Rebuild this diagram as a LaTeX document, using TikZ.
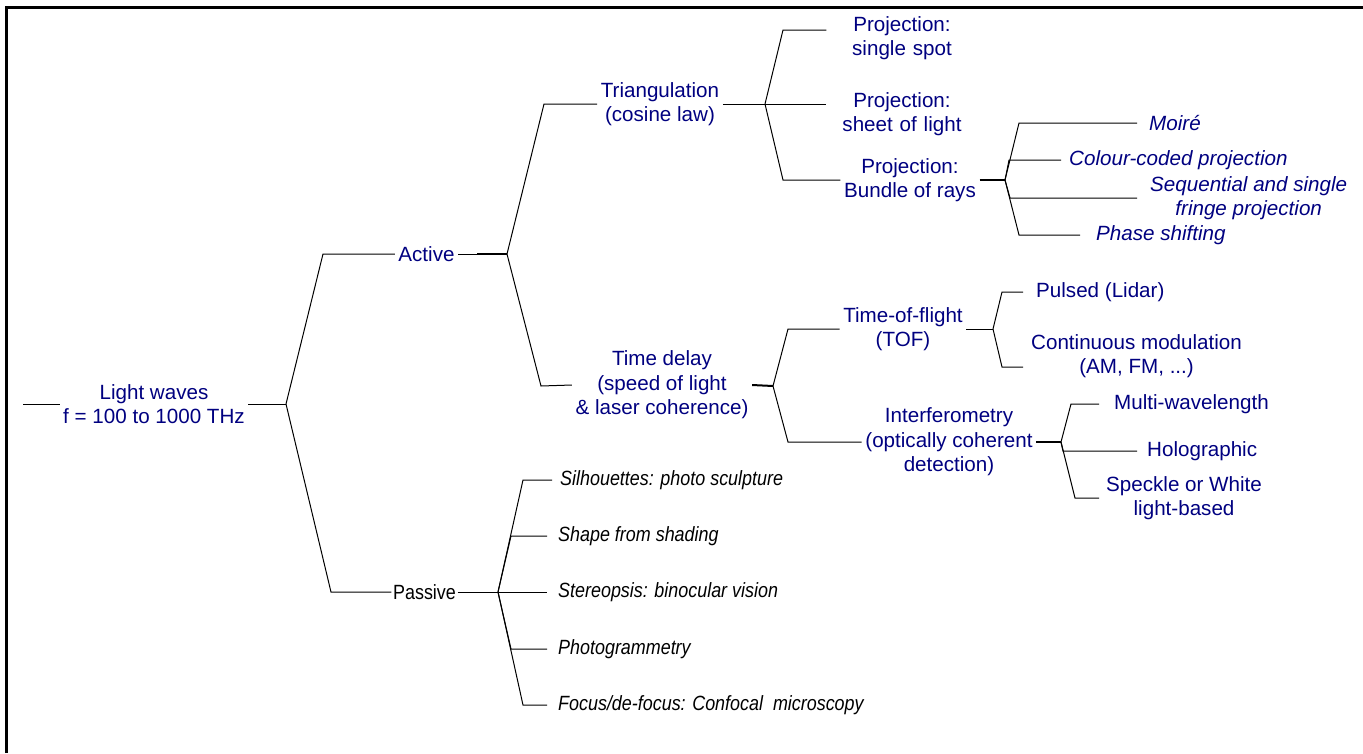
\documentclass[tikz,border=0pt]{standalone}
\usepackage{fontspec}
\setmainfont{Liberation Sans}
\newfontfamily\narrowsans[FakeStretch=0.87]{Liberation Sans}
\begin{document}
\begin{tikzpicture}[x=1pt,y=-1pt,
    every node/.style={font=\fontsize{20.6}{24.5}\selectfont, align=center},
    inner/.style={text=wavecolor, inner xsep=3.5pt},
    leaf/.style={text=wavecolor, anchor=west, inner xsep=9pt},
    ileaf/.style={leaf, font=\fontsize{20.6}{24.5}\selectfont\itshape},
    pleaf/.style={anchor=west, inner xsep=11pt, font=\fontsize{20.6}{24.5}\selectfont\narrowsans\itshape},
    link/.style={line width=1pt},
    stub/.style={line width=2pt}]
	% Colours
	\definecolor{wavecolor}{RGB}{0,0,128}
	
	% Page and outer frame (only top and left edges show)
	\useasboundingbox (0,0) rectangle (1363,753);
	\draw[line width=3pt] (6,753) -- (6,7.5) -- (1363,7.5);
	
	% Light waves
	\coordinate (start) at (23,404);
	\node[inner] (light) at (154,404) {Light waves\\f = 100 to 1000 THz};
	\coordinate (lightsp) at (286,404);
	
	% Active and passive
	\node[inner] (active) at (426.5,254) {Active};
	\node[inner sep=1.5pt, font=\fontsize{20.6}{24.5}\selectfont\narrowsans] (passive) at (424.5,592) {Passive};
	\coordinate (activesp) at (507,254);
	\coordinate (passivesp) at (498,592);
	
	% Triangulation and time delay
	\node[inner] (tri) at (660,104) {Triangulation\\(cosine law)};
	\node[inner] (delay) at (662,385) {Time delay\\(speed of light\\\& laser coherence)};
	\coordinate (trisp) at (765,104);
	\coordinate (delaysp) at (773,386);
	
	% Projection
	\node[inner, text width=144pt] (spot) at (902,38) {Projection:\\single spot};
	\node[inner, text width=144pt] (sheet) at (902,114) {Projection:\\sheet of light};
	\node[inner] (bundle) at (910,180) {Projection:\\Bundle of rays};
	\coordinate (bundlesp) at (1005,180);
	
	% Bundle of rays
	\node[ileaf, inner xsep=12pt] (moire) at (1137,123) {Moiré};
	\node[ileaf, inner xsep=8pt] (colour) at (1061,160) {Colour-coded projection};
	\node[ileaf, inner xsep=13pt] (fringe) at (1137,198) {Sequential and single\\fringe projection};
	\node[ileaf, inner xsep=16pt] (phase) at (1080,235) {Phase shifting};
	
	% Time-of-flight and interferometry
	\node[inner] (tof) at (903,329) {Time-of-flight\\(TOF)};
	\node[inner] (interf) at (949,442) {Interferometry\\(optically coherent\\detection)};
	\coordinate (tofsp) at (993,329);
	\coordinate (interfsp) at (1061,442);
	
	\node[leaf, inner xsep=13pt] (pulsed) at (1023,292) {Pulsed (Lidar)};
	\node[leaf, inner xsep=8pt] (cw) at (1023,356) {Continuous modulation\\(AM, FM, ...)};
	\node[leaf, inner xsep=15pt] (multi) at (1099,404) {Multi-wavelength};
	\node[leaf, inner xsep=10pt] (holo) at (1137,451) {Holographic};
	\node[leaf, inner xsep=7pt] (speckle) at (1099,498) {Speckle or White\\light-based};
	
	% Passive methods
	\node[pleaf, inner xsep=8pt] (silh) at (552,480) {Silhouettes: photo sculpture};
	\node[pleaf] (shading) at (547,536) {Shape from shading};
	\node[pleaf] (stereo) at (547,592) {Stereopsis: binocular vision};
	\node[pleaf] (photo) at (547,649) {Photogrammetry};
	\node[pleaf] (focus) at (547,705) {Focus/de-focus: Confocal~ microscopy};
	
	% Branches
	\draw[link] (start) -- (light.west);
	\draw[link] (light.east) -- (lightsp);
	\draw[link] (lightsp) -- (323,254) -- (active.west);
	\draw[link] (lightsp) -- (331,592) -- (passive.west);
	
	\draw[link] (active.east) -- (activesp);
	\draw[stub] ([xshift=-30pt]activesp) -- (activesp);
	\draw[link] (activesp) -- (544,104) -- (tri.west);
	\draw[link] (activesp) -- (541,386) -- (delay.west);
	
	\draw[link] (passive.east) -- (passivesp);
	\draw[link] (passivesp) -- (523,480) -- (silh.west);
	\draw[link] (passivesp) -- (511,536) -- (shading.west);
	\draw[link] (passivesp) -- (stereo.west);
	\draw[link] (passivesp) -- (511,649) -- (photo.west);
	\draw[link] (passivesp) -- (523,705) -- (focus.west);
	
	\draw[link] (tri.east) -- (trisp);
	\draw[link] (trisp) -- (783,30) -- (spot.west |- 783,30);
	\draw[link] (trisp) -- (sheet.west |- trisp);
	\draw[link] (trisp) -- (783,180) -- (bundle.west);
	
	\draw[stub] (bundle.east) -- (bundlesp);
	\draw[link] (bundlesp) -- (1019,123) -- (moire.west);
	\draw[link] (bundlesp) -- (1009,160) -- (colour.west);
	\draw[link] (bundlesp) -- (1010,198) -- (fringe.west);
	\draw[link] (bundlesp) -- (1019,235) -- (phase.west);
	
	\draw[stub] (delay.east) -- (delaysp);
	\draw[link] (delaysp) -- (788,329) -- (tof.west);
	\draw[link] (delaysp) -- (788,442) -- (interf.west);
	
	\draw[link] (tof.east) -- (tofsp);
	\draw[link] (tofsp) -- (1002,292) -- (pulsed.west);
	\draw[link] (tofsp) -- (1002,367) -- (cw.west |- 1002,367);
	
	\draw[stub] (interf.east) -- (interfsp);
	\draw[link] (interfsp) -- (1071,404) -- (multi.west);
	\draw[link] (interfsp) -- (1063,451) -- (holo.west);
	\draw[link] (interfsp) -- (1075,498) -- (speckle.west);
\end{tikzpicture}
\end{document}
